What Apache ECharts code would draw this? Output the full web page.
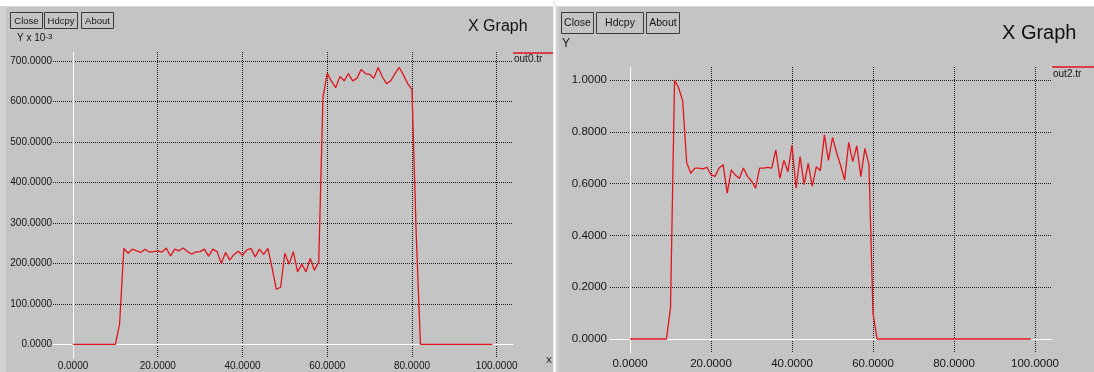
<!DOCTYPE html>
<html><head><meta charset="utf-8">
<script src="https://cdn.jsdelivr.net/npm/echarts@6/dist/echarts.min.js"></script>
<style>html,body{margin:0;padding:0;background:#c4c4c4;overflow:hidden}#c{width:1094px;height:372px}</style>
</head><body><div id="c"></div>
<script>
// ---- data ----
const xTickValues = [0, 20, 40, 60, 80, 100];
const leftYTickValues = [0, 100, 200, 300, 400, 500, 600, 700];
const rightYTickValues = [0, 0.2, 0.4, 0.6, 0.8, 1.0];

const timeX = [0,1,2,3,4,5,6,7,8,9,10,11,12,13,14,15,16,17,18,19,20,21,22,23,24,25,26,27,28,29,30,31,32,33,34,35,36,37,38,39,40,41,42,43,44,45,46,47,48,49,50,51,52,53,54,55,56,57,58,59,60,61,62,63,64,65,66,67,68,69,70,71,72,73,74,75,76,77,78,79,80,81,82,83,84,85,86,87,88,89,90,91,92,93,94,95,96,97,98,99];

// out0.tr, values in units of 10^-3
const out0Y = [0,0,0,0,0,0,0,0,0,0,0,50,237,225,235,231,227,235,228,229,231,228,238,218,235,231,238,229,223,228,229,235,218,235,229,200,227,208,222,230,220,233,237,216,235,222,237,188,136,141,225,198,229,179,198,179,212,183,204,610,670,650,634,662,651,669,651,657,679,669,667,657,684,661,644,651,669,684,665,644,630,274,0,0,0,0,0,0,0,0,0,0,0,0,0,0,0,0,0,0];

// out2.tr
const out2Y = [0,0,0,0,0,0,0,0,0,0,0.12,1.0,0.97,0.92,0.68,0.64,0.66,0.66,0.657,0.663,0.634,0.628,0.66,0.673,0.563,0.653,0.633,0.62,0.66,0.628,0.61,0.582,0.66,0.66,0.663,0.66,0.73,0.62,0.69,0.646,0.749,0.582,0.704,0.596,0.678,0.59,0.665,0.65,0.788,0.69,0.778,0.72,0.67,0.614,0.759,0.685,0.746,0.627,0.736,0.673,0.1,0,0,0,0,0,0,0,0,0,0,0,0,0,0,0,0,0,0,0,0,0,0,0,0,0,0,0,0,0,0,0,0,0,0,0,0,0,0,0];

// ---- chart ----
const FONT = 'Liberation Sans';
const BG = '#c4c4c4';
const RED = '#e0141c';
const pairs = (xs, ys) => xs.map((x, i) => [x, ys[i]]);

const gridLine = { show: true, lineStyle: { color: '#1c1c1c', type: 'dotted', width: 1 } };

function makeAxis(idx, min, max, ticks, fs, margin) {
  return {
    type: 'value', gridIndex: idx, min: min, max: max,
    axisLine: { show: true, onZero: true, lineStyle: { color: '#ffffff', width: 1 } },
    axisTick: { show: false, customValues: ticks.filter(v => v !== 0) },
    axisLabel: { customValues: ticks, formatter: v => v.toFixed(4), fontFamily: FONT, fontSize: fs, color: '#151515', margin: margin },
    splitLine: gridLine
  };
}

function button(x, y, w, h, label, fs) {
  return [
    { type: 'rect', shape: { x: x + 0.5, y: y + 0.5, width: w, height: h }, style: { fill: BG, stroke: '#3a3a3a', lineWidth: 1 }, z: 10 },
    { type: 'text', x: x + w / 2 + 0.5, y: y + h / 2 + 1, style: { text: label, fontFamily: FONT, fontSize: fs, fill: '#151515', align: 'center', verticalAlign: 'middle' }, z: 11 }
  ];
}

const chart = echarts.init(document.getElementById('c'), null, { renderer: 'canvas' });
chart.setOption({
  animation: false,
  backgroundColor: BG,
  grid: [
    { left: 53, top: 52, width: 460, height: 306, containLabel: false, outerBoundsMode: 'none' },
    { left: 610, top: 67, width: 442, height: 286, containLabel: false, outerBoundsMode: 'none' }
  ],
  xAxis: [
    makeAxis(0, -4.72, 103.85, xTickValues, 10, 3),
    makeAxis(1, -4.94, 104.2, xTickValues, 11.5, 5)
  ],
  yAxis: [
    makeAxis(0, -33.85, 722.2, leftYTickValues, 10, 1),
    makeAxis(1, -0.054, 1.0502, rightYTickValues, 11.5, 3)
  ],
  series: [
    { name: 'out0.tr', type: 'line', xAxisIndex: 0, yAxisIndex: 0, data: pairs(timeX, out0Y), showSymbol: false, lineStyle: { color: RED, width: 1.3 }, itemStyle: { color: RED }, z: 5 },
    { name: 'out2.tr', type: 'line', xAxisIndex: 1, yAxisIndex: 1, data: pairs(timeX, out2Y), showSymbol: false, lineStyle: { color: RED, width: 1.3 }, itemStyle: { color: RED }, z: 5 }
  ],
  graphic: [
    // frame strips
    { type: 'rect', shape: { x: 0, y: 0, width: 1094, height: 6 }, style: { fill: '#ffffff' }, z: 1 },
    { type: 'rect', shape: { x: 0, y: 6, width: 1094, height: 1 }, style: { fill: '#d8d8d8' }, z: 1 },
    { type: 'rect', shape: { x: 0, y: 6, width: 6, height: 366 }, style: { fill: '#d2d2d2' }, z: 1 },
    { type: 'rect', shape: { x: 553, y: 0, width: 3, height: 372 }, style: { fill: '#f4f4f4' }, z: 1 },
    { type: 'rect', shape: { x: 556, y: 6, width: 3, height: 366 }, style: { fill: '#d2d2d2' }, z: 1 },
    // buttons
    ...button(10, 12, 32, 16, 'Close', 9.5),
    ...button(44, 12, 33, 16, 'Hdcpy', 9.5),
    ...button(81, 12, 32, 16, 'About', 9.5),
    ...button(561, 12, 32, 21, 'Close', 10.5),
    ...button(596, 12, 47, 21, 'Hdcpy', 10.5),
    ...button(646, 12, 33, 21, 'About', 10.5),
    // titles
    { type: 'text', x: 468, y: 27, style: { text: 'X Graph', fontFamily: FONT, fontSize: 16, fill: '#111', verticalAlign: 'middle' }, z: 10 },
    { type: 'text', x: 1002, y: 33, style: { text: 'X Graph', fontFamily: FONT, fontSize: 20, fill: '#111', verticalAlign: 'middle' }, z: 10 },
    // axis unit labels
    { type: 'text', x: 17, y: 33, style: { text: '{a|Y x 10}{s|-3}', fontFamily: FONT, rich: { a: { fontSize: 10, fill: '#151515', fontFamily: FONT, verticalAlign: 'bottom' }, s: { fontSize: 8, fill: '#151515', fontFamily: FONT, verticalAlign: 'top' } } }, z: 10 },
    { type: 'text', x: 562, y: 38, style: { text: 'Y', fontFamily: FONT, fontSize: 12, fill: '#151515' }, z: 10 },
    { type: 'text', x: 546, y: 356, style: { text: 'X', fontFamily: FONT, fontSize: 9, fill: '#151515' }, z: 10 },
    // legends
    { type: 'line', shape: { x1: 513, y1: 53, x2: 553, y2: 53 }, style: { stroke: RED, lineWidth: 1.3 }, z: 10 },
    { type: 'text', x: 514, y: 59, style: { text: 'out0.tr', fontFamily: FONT, fontSize: 10, fill: '#151515', verticalAlign: 'middle' }, z: 10 },
    { type: 'line', shape: { x1: 1052, y1: 67, x2: 1094, y2: 67 }, style: { stroke: RED, lineWidth: 1.3 }, z: 10 },
    { type: 'text', x: 1053, y: 74, style: { text: 'out2.tr', fontFamily: FONT, fontSize: 10, fill: '#151515', verticalAlign: 'middle' }, z: 10 }
  ]
});
</script>
</body></html>
